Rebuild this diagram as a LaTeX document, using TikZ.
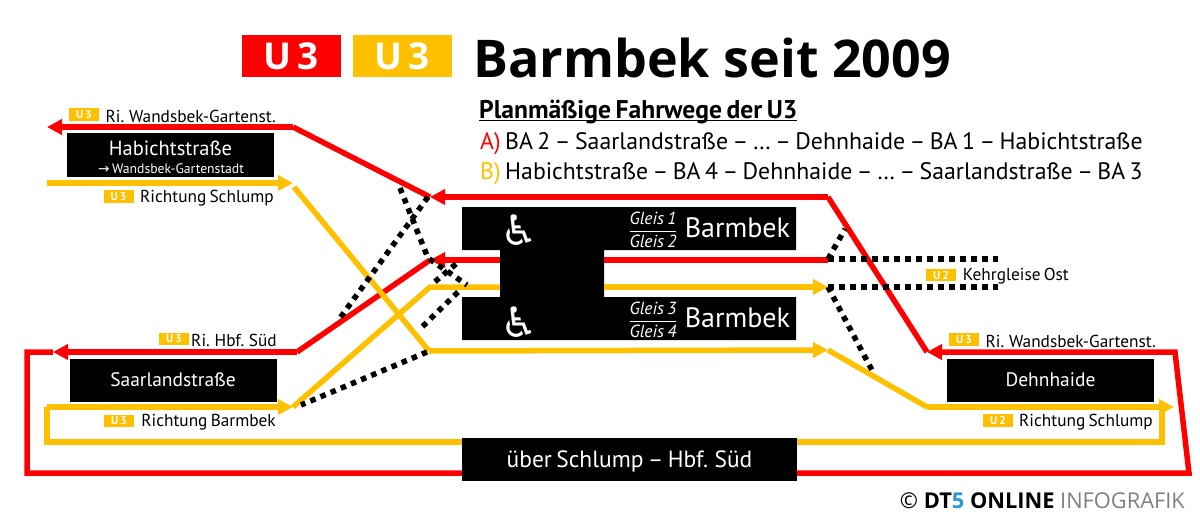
\documentclass[tikz,border=0pt]{standalone}
\usepackage{amsmath}
\usepackage{fontspec}
\setmainfont[WordSpace=0.7]{PT Sans}
\newfontfamily\titlefont{Open Sans}
\newfontfamily\symbfont{DejaVu Sans}
\usepackage{xcolor}
\usetikzlibrary{arrows.meta}
\definecolor{ubahnred}{RGB}{255,0,0}
\definecolor{ubahnyellow}{RGB}{255,192,0}
\definecolor{dtblue}{RGB}{40,150,215}
\newcommand{\sized}[1]{\fontsize{#1}{#1}\selectfont}
\newcommand{\lowline}[1]{\setbox0\hbox{#1}\rlap{\rule[-2.8pt]{\wd0}{1.8pt}}\box0}
\tikzset{
	redtrack/.style={draw=ubahnred, line width=5.5pt, line join=miter},
	yellowtrack/.style={draw=ubahnyellow, line width=5.5pt, line join=miter},
	dotted track/.style={draw=black, line width=5.5pt, dash pattern=on 5.5pt off 5.5pt},
	tip/.style={-{Triangle[length=15pt,width=15pt]}},
	station/.style={fill=black, text=white, minimum width=207pt, minimum height=43pt, inner sep=0pt},
	badge/.style={fill=ubahnyellow, text=white, font=\sized{11.5}\bfseries, minimum width=30pt, minimum height=12.5pt, inner sep=0pt},
	tracklabel/.style={anchor=east, inner sep=0pt, font=\sized{17.3}},
	plantext/.style={anchor=west, inner sep=0pt, font=\sized{23.8}}
}

\begin{document}
\begin{tikzpicture}[x=1pt, y=-1pt]
	\useasboundingbox (0,0) rectangle (1200,530);

	% Title
	\node (titlered) at (291.5,56) [fill=ubahnred, text=white, minimum width=99pt, minimum height=42pt, inner sep=0pt, font=\titlefont\sized{37}\bfseries] {U\,3};
	\node (titleyellow) at (402,56) [fill=ubahnyellow, text=white, minimum width=99pt, minimum height=42pt, inner sep=0pt, font=\titlefont\sized{37}\bfseries] {U\,3};
	\node (title) at (473,58) [anchor=west, inner sep=0pt, font=\titlefont\sized{52}\bfseries] {Barmbek seit 2009};

	% Barmbek platform
	\fill[black] (462,207) -- (796,207) -- (796,250) -- (604,250) -- (604,297) -- (796,297) -- (796,340)
		-- (462,340) -- (462,297) -- (500,297) -- (500,250) -- (462,250) -- cycle;
	\node (wheelone) at (519,230) [text=white, inner sep=0pt, font=\symbfont\sized{42}] {♿};
	\node (wheeltwo) at (519,322) [text=white, inner sep=0pt, font=\symbfont\sized{42}] {♿};
	\node (gleisone) at (653,230) [text=white, inner sep=0pt, font=\sized{17.5}] {$\dfrac{\mathit{Gleis\ 1}}{\mathit{Gleis\ 2}}$};
	\node (gleistwo) at (653,320) [text=white, inner sep=0pt, font=\sized{17.5}] {$\dfrac{\mathit{Gleis\ 3}}{\mathit{Gleis\ 4}}$};
	\node (barmbekone) at (737.5,228) [text=white, inner sep=0pt, font=\sized{28}] {Barmbek};
	\node (barmbektwo) at (737.5,318) [text=white, inner sep=0pt, font=\sized{28}] {Barmbek};

	% Track points
	\coordinate (habichtred) at (47,127);
	\coordinate (habichtredend) at (293,127);
	\coordinate (habichtyellow) at (47,183);
	\coordinate (habichtyellowend) at (293,183);
	\coordinate (habichtout) at (294,187);
	\coordinate (saarred) at (53,352);
	\coordinate (saarredend) at (297,352);
	\coordinate (saarcorner) at (27,352);
	\coordinate (bottomleft) at (27,473);
	\coordinate (bottomright) at (1189,473);
	\coordinate (topright) at (1175,352);
	\coordinate (dehnred) at (927,352);
	\coordinate (eastred) at (828,197);
	\coordinate (westred) at (430,197);
	\coordinate (midredw) at (430,260);
	\coordinate (midredboxw) at (500,260);
	\coordinate (midredboxe) at (604,260);
	\coordinate (midrede) at (828,260);
	\coordinate (saaryellow) at (293,407);
	\coordinate (saaryellowleft) at (47,407);
	\coordinate (loopleft) at (47,442);
	\coordinate (loopright) at (1162,442);
	\coordinate (dehnyellowup) at (1162,407);
	\coordinate (dehnyellowtip) at (1174,407);
	\coordinate (dehnyellow) at (927,407);
	\coordinate (lowere) at (828,350);
	\coordinate (lowerw) at (429,351);
	\coordinate (midyelloww) at (430,287);
	\coordinate (midyellowboxw) at (500,287);
	\coordinate (midyellowboxe) at (604,287);
	\coordinate (midyellowe) at (828,287);

	% Red tracks
	\draw[redtrack, tip] (habichtredend) -- (habichtred);
	\draw[redtrack] (westred) -- (habichtredend);
	\draw[redtrack, tip] (eastred) -- (westred);
	\draw[redtrack] (dehnred) -- (eastred);
	\draw[redtrack, tip] (saarredend) -- (saarred);
	\draw[redtrack, tip] (saarred) -- (saarcorner) -- (bottomleft) -- (bottomright) -- (topright) -- (dehnred);
	\draw[redtrack] (midredw) -- (saarredend);
	\draw[redtrack, tip] (midredboxw) -- (midredw);
	\draw[redtrack] (midredboxe) -- (midrede);

	% Yellow tracks
	\draw[yellowtrack, tip] (habichtyellow) -- (habichtyellowend);
	\draw[yellowtrack] (habichtout) -- (lowerw);
	\draw[yellowtrack, tip] (lowerw) -- (lowere);
	\draw[yellowtrack] (lowere) -- (dehnyellow);
	\draw[yellowtrack, tip] (dehnyellow) -- (dehnyellowtip);
	\draw[yellowtrack] (dehnyellowup) -- (loopright) -- (loopleft) -- (saaryellowleft);
	\draw[yellowtrack, tip] (saaryellowleft) -- (saaryellow);
	\draw[yellowtrack] (saaryellow) -- (midyelloww) -- (midyellowboxw);
	\draw[yellowtrack, tip] (midyellowboxe) -- (midyellowe);

	% Dotted connections
	\coordinate (dotastart) at (428,197);
	\coordinate (dotaend) at (340,318);
	\coordinate (dotbstart) at (400,188);
	\coordinate (dotbkink) at (428,258);
	\coordinate (dotbend) at (467,285);
	\coordinate (dotcstart) at (456,264);
	\coordinate (dotcend) at (431,285);
	\coordinate (dotdstart) at (458,292);
	\coordinate (dotdend) at (420,329);
	\coordinate (dotestart) at (427,352);
	\coordinate (doteend) at (301,405);
	\coordinate (dotfstart) at (828,259);
	\coordinate (dotfend) at (845,229);
	\coordinate (dotgend) at (998,259);
	\coordinate (dothstart) at (828,287);
	\coordinate (dothend) at (998,287);
	\coordinate (dotiend) at (874,374);
	\draw[dotted track] (dotastart) -- (dotaend);
	\draw[dotted track] (dotbstart) -- (dotbkink) -- (dotbend);
	\draw[dotted track] (dotcstart) -- (dotcend);
	\draw[dotted track] (dotdstart) -- (dotdend);
	\draw[dotted track] (dotestart) -- (doteend);
	\draw[dotted track] (dotfstart) -- (dotfend);
	\draw[dotted track] (dotfstart) -- (dotgend);
	\draw[dotted track] (dothstart) -- (dothend);
	\draw[dotted track] (dothstart) -- (dotiend);

	% Station boxes
	\node (habicht) at (170.5,155) [station, minimum height=43.5pt] {};
	\node (habichtname) at (170.5,148) [text=white, inner sep=0pt, font=\sized{20.5}] {Habichtstraße};
	\node (habichtdir) at (171,169) [text=white, inner sep=0pt, font=\sized{13.7}] {{\symbfont→} Wandsbek-Gartenstadt};
	\node (saarland) at (173,380) [station, font=\sized{19.5}] {Saarlandstraße};
	\node (dehnhaide) at (1050.5,380) [station, font=\sized{19.5}] {Dehnhaide};
	\node (schlump) at (629.5,459.5) [station, minimum width=335pt, font=\sized{23.5}, text depth=0pt] {über Schlump – Hbf. Süd};

	% Track labels
	\node (badgea) at (84,114.5) [badge] {U\,3};
	\node (labela) at (276,116) [tracklabel] {Ri. Wandsbek-Gartenst.};
	\node (badgeb) at (118.5,196.5) [badge] {U\,3};
	\node (labelb) at (274,198) [tracklabel] {Richtung Schlump};
	\node (badgec) at (174,339) [badge] {U\,3};
	\node (labelc) at (277,340) [tracklabel] {Ri. Hbf. Süd};
	\node (badged) at (119,421) [badge] {U\,3};
	\node (labeld) at (276,422) [tracklabel] {Richtung Barmbek};
	\node (badgee) at (941,275) [badge] {U\,2};
	\node (labele) at (1069,276) [tracklabel] {Kehrgleise Ost};
	\node (badgef) at (964,339.5) [badge] {U\,3};
	\node (labelf) at (1156,341) [tracklabel] {Ri. Wandsbek-Gartenst.};
	\node (badgeg) at (998,420.5) [badge] {U\,2};
	\node (labelg) at (1153,422) [tracklabel] {Richtung Schlump};

	% Legend
	\node (planhead) at (479,112) [plantext, font=\sized{25.6}\bfseries] {\lowline{Planmäßige Fahrwege der U3}};
	\node (plana) at (480,144) [plantext] {\textcolor{ubahnred}{A)} BA 2 – Saarlandstraße – … – Dehnhaide – BA 1 – Habichtstraße};
	\node (planb) at (480,174) [plantext] {\textcolor{ubahnyellow}{B)} Habichtstraße – BA 4 – Dehnhaide – … – Saarlandstraße – BA 3};

	% Credit
	\node (credit) at (1185,501) [anchor=east, inner sep=0pt, font=\titlefont\sized{21.8}] {© \textbf{DT\textcolor{dtblue}{5} ONLINE} \textcolor{black!50}{INFOGRAFIK}};
\end{tikzpicture}
\end{document}
